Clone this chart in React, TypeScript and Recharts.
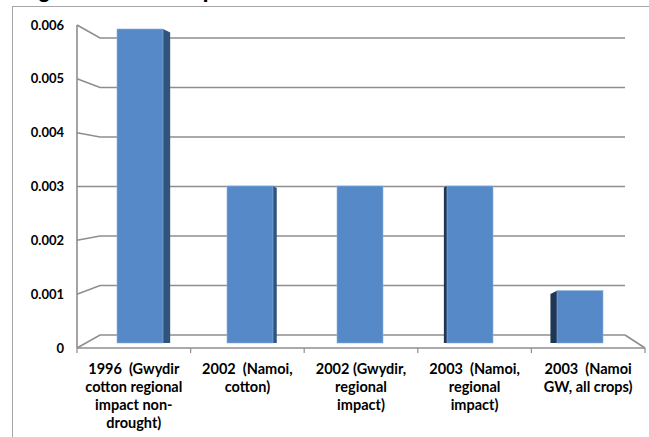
import { BarChart, Bar, XAxis, YAxis, CartesianGrid } from "recharts";

const CATEGORY_LINES = [
  ["1996  (Gwydir", "cotton regional", "impact non-", "drought)"],
  ["2002  (Namoi,", "cotton)"],
  ["2002 (Gwydir,", "regional", "impact)"],
  ["2003  (Namoi,", "regional", "impact)"],
  ["2003  (Namoi", "GW, all crops)"],
];
const COSTS = [0.006, 0.003, 0.003, 0.003, 0.001];
const Y_TICKS = [0, 0.001, 0.002, 0.003, 0.004, 0.005, 0.006];
const Y_LABELS = ["0", "0.001", "0.002", "0.003", "0.004", "0.005", "0.006"];

const data = CATEGORY_LINES.map((lines, i) => ({
  name: lines.join(" "),
  cost: COSTS[i],
}));

// plot box (flat, mid depth) and the faux 3D planes around it
const W = 649;
const H = 437;
const PLOT_TOP = 29;
const PLOT_BOTTOM = 343;
const PLOT_LEFT = 85;
const PLOT_RIGHT = 635;
const FRONT_LEFT = 77;
const FRONT_RIGHT = 645;
const FRONT_ZERO = 348;
const FRONT_TOP = 25;
const BACK_LEFT = 100;
const BACK_RIGHT = 625;
const BACK_ZERO = 335;
const BACK_TOP = 38;

const FONT = "Lato, 'Open Sans', sans-serif";
const GRID = "#8e8e8e";

const frac = (y: number) => (PLOT_BOTTOM - y) / (PLOT_BOTTOM - PLOT_TOP);
const frontY = (y: number) => FRONT_ZERO - frac(y) * (FRONT_ZERO - FRONT_TOP);
const backY = (y: number) => BACK_ZERO - frac(y) * (BACK_ZERO - BACK_TOP);
const frontX = (x: number) =>
  (FRONT_LEFT + FRONT_RIGHT) / 2 +
  (x - (PLOT_LEFT + PLOT_RIGHT) / 2) *
    ((FRONT_RIGHT - FRONT_LEFT) / (PLOT_RIGHT - PLOT_LEFT));

function GridLine(props: any) {
  const yf = frontY(props.y1);
  const yb = backY(props.y1);
  return (
    <polyline
      key={props.key}
      points={`${FRONT_LEFT},${yf} ${BACK_LEFT},${yb} ${BACK_RIGHT},${yb}`}
      fill="none"
      stroke={GRID}
      strokeWidth={1.6}
    />
  );
}

function YTick({ y, payload }: any) {
  const i = Y_TICKS.indexOf(payload.value);
  return (
    <text
      x={64}
      y={frontY(y) + 4.5}
      textAnchor="end"
      fontFamily={FONT}
      fontWeight={700}
      fontSize={13}
      fill="#000"
    >
      {Y_LABELS[i] ?? payload.value}
    </text>
  );
}

function XTick({ x, payload, index }: any) {
  const lines = CATEGORY_LINES[index] ?? [payload.value];
  const cx = frontX(x);
  const step = (FRONT_RIGHT - FRONT_LEFT) / CATEGORY_LINES.length;
  return (
    <g>
      <line x1={cx - step / 2} y1={FRONT_ZERO} x2={cx - step / 2} y2={FRONT_ZERO + 5} stroke={GRID} strokeWidth={1.2} />
      {index === CATEGORY_LINES.length - 1 && (
        <line x1={cx + step / 2} y1={FRONT_ZERO} x2={cx + step / 2} y2={FRONT_ZERO + 5} stroke={GRID} strokeWidth={1.2} />
      )}
      {lines.map((t: string, k: number) => (
        <text
          key={k}
          x={cx}
          y={374 + k * 18}
          textAnchor="middle"
          fontFamily={FONT}
          fontWeight={700}
          fontSize={14.5}
          fill="#000"
          xmlSpace="preserve"
          style={{ whiteSpace: "pre" }}
        >
          {t}
        </text>
      ))}
    </g>
  );
}

function Bar3D({ x, y, width, height }: any) {
  const cx = x + width / 2;
  const side = (370 - cx) / 32;
  const bottom = y + height;
  let face = null;
  if (side > 0.8) {
    const sx = x + width;
    face = (
      <polygon
        points={`${sx},${y} ${sx + side},${y + side * 0.5} ${sx + side},${bottom} ${sx},${bottom}`}
        fill="#30547e"
      />
    );
  } else if (side < -0.8) {
    face = (
      <polygon
        points={`${x},${y} ${x + side},${y + side * -0.5} ${x + side},${bottom} ${x},${bottom}`}
        fill="#1f3756"
      />
    );
  }
  return (
    <g>
      {face}
      <rect x={x} y={y} width={width} height={height} fill="#5689c7" stroke="#8eb0dc" strokeWidth={0.6} />
    </g>
  );
}

export default function App() {
  return (
    <div style={{ position: "relative", width: W, height: H, background: "#fff", overflow: "hidden" }}>
      <style>{"body{margin:0}"}</style>
      <svg width={W} height={H} style={{ position: "absolute", left: 0, top: 0 }}>
        <text x={18} y={-3} fontFamily="'Liberation Sans', Arial, sans-serif" fontWeight={700} fontSize={22} fill="#000">
          Figure 4.1: Costs per ML Rate
        </text>
        <rect x={12.5} y={6.5} width={W} height={H} fill="none" stroke="#a6a6a6" strokeWidth={1} />
        <line x1={FRONT_LEFT} y1={FRONT_TOP} x2={FRONT_LEFT} y2={FRONT_ZERO} stroke={GRID} strokeWidth={1.6} />
        <line x1={FRONT_LEFT} y1={FRONT_ZERO} x2={FRONT_RIGHT} y2={FRONT_ZERO} stroke={GRID} strokeWidth={1.6} />
        <line x1={BACK_RIGHT} y1={BACK_ZERO} x2={FRONT_RIGHT} y2={FRONT_ZERO} stroke={GRID} strokeWidth={1.6} />
      </svg>
      <div style={{ position: "absolute", left: 0, top: 0 }}>
        <BarChart
          width={W}
          height={H}
          data={data}
          margin={{ top: PLOT_TOP, right: W - PLOT_RIGHT, bottom: 0, left: 0 }}
        >
          <CartesianGrid vertical={false} horizontal={GridLine} />
          <XAxis
            dataKey="name"
            interval={0}
            axisLine={false}
            tickLine={false}
            height={H - PLOT_BOTTOM}
            tick={XTick}
          />
          <YAxis
            width={PLOT_LEFT}
            domain={[0, 0.006]}
            ticks={Y_TICKS}
            axisLine={false}
            tickLine={false}
            tick={YTick}
          />
          <Bar dataKey="cost" barSize={46} shape={Bar3D} isAnimationActive={false} />
        </BarChart>
      </div>
    </div>
  );
}
